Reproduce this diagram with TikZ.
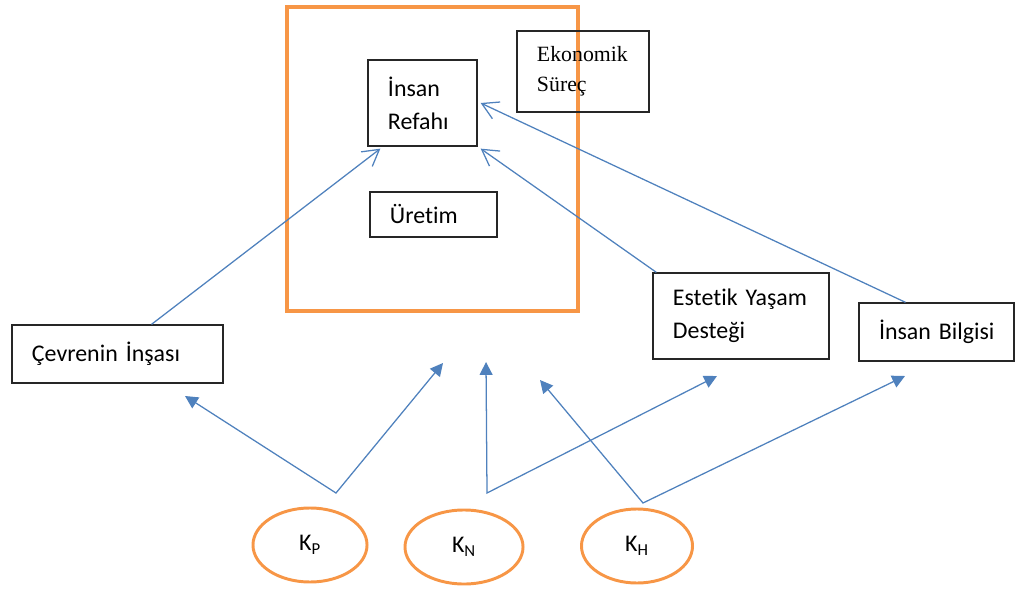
\documentclass[tikz,border=0pt]{standalone}
\usepackage{fontspec}
\setmainfont{Carlito}[Ligatures=NoCommon]
\newfontfamily\ekofont{Liberation Serif}
\usepackage{tikz}
\usetikzlibrary{arrows.meta,calc,shapes.geometric}
\definecolor{og}{RGB}{247,150,70}
\definecolor{bl}{RGB}{79,129,189}

\begin{document}
\begin{tikzpicture}[
      x=0.025cm, y=-0.025cm,
      font=\fontsize{17}{23.4}\selectfont,
      >={Triangle[length=3.2mm,width=3.2mm]},
      box/.style={draw=black!85, line width=0.9pt, align=left, inner xsep=0.5cm, inner ysep=0pt},
      frame/.style={draw=og, line width=3pt, minimum width=7.275cm, minimum height=7.6cm},
      capital/.style={ellipse, draw=og, line width=2.1pt, minimum height=1.85cm, inner sep=0pt},
      link/.style={draw=bl, line width=0.9pt, -{Straight Barb[length=4mm,width=4.6mm]}},
      flow/.style={draw=bl, line width=0.9pt, <->},
]

\useasboundingbox (0,0) rectangle (1016,590);

\node[frame] (system) at (432.5,159) {};

\node[box, text width=1.725cm, minimum height=2.15cm] (refah) at (422.5,103) {İnsan\\Refahı};
\node[box, text width=2.3cm, minimum height=2.025cm, font=\ekofont\fontsize{15.5}{21}\selectfont] (eko) at (583,71.5) {Ekonomik\\Süreç};
\node[box, text width=2.175cm, minimum height=1.125cm] (uretim) at (433.5,214.5) {Üretim};

\node[box, text width=4.275cm, minimum height=1.45cm] (cevre) at (117.5,354) {Çevrenin İnşası};
\node[box, text width=3.4cm, minimum height=2.15cm] (estetik) at (741,316) {\mbox{Estetik Yaşam}\\Desteği};
\node[box, text width=2.875cm, minimum height=1.45cm] (bilgi) at (936.5,332) {\mbox{İnsan Bilgisi}};

\node[capital, minimum width=2.85cm] (kp) at (310,545) {K\textsubscript{P}};
\node[capital, minimum width=2.95cm] (kn) at (464,547) {K\textsubscript{N}};
\node[capital, minimum width=2.775cm] (kh) at (637,546) {K\textsubscript{H}};

% into human welfare
\draw[link] ($(cevre.north)+(34,0)$) -- ($(refah.south west)+(13,2)$);
\draw[link] ($(estetik.north west)+(4,0)$) -- ($(refah.south east)+(3,2)$);
\draw[link] ($(bilgi.north)+(-31,0)$) -- ($(refah.east)+(3,0)$);

% capital stocks
\coordinate (kp_apex) at (336,493);
\coordinate (kn_apex) at (487,493);
\coordinate (kh_apex) at (643,503);
\coordinate (cevre_in) at (185,396);
\coordinate (system_in_left) at (443,363);
\coordinate (system_in_mid) at (486,362);
\coordinate (system_in_right) at (540,380);
\coordinate (estetik_in) at (717,376);
\coordinate (bilgi_in) at (905,376);

\draw[flow] (cevre_in) -- (kp_apex) -- (system_in_left);
\draw[flow] (system_in_mid) -- (kn_apex) -- (estetik_in);
\draw[flow] (system_in_right) -- (kh_apex) -- (bilgi_in);

\end{tikzpicture}
\end{document}
